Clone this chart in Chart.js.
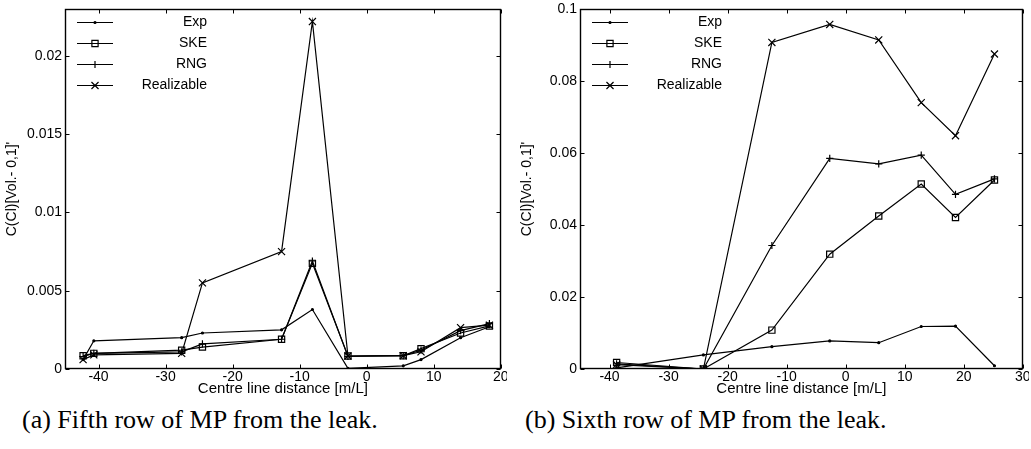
<!DOCTYPE html>
<html>
<head>
<meta charset="utf-8">
<script src="https://cdn.jsdelivr.net/npm/chart.js@4.4.1/dist/chart.umd.min.js"></script>
<style>
  html, body { margin: 0; padding: 0; background: #fff; width: 1031px; height: 449px; overflow: hidden; }
  #wrapA { position: absolute; left: 0; top: 0; width: 507px; height: 400px; }
  #wrapB { position: absolute; left: 507px; top: 0; width: 522px; height: 400px; }
  .cap { position: absolute; top: 407px; font-family: "Liberation Serif", serif; font-size: 26px;
         line-height: 26px; white-space: nowrap; color: #000; }
</style>
</head>
<body>
<div id="wrapA"><canvas id="chartA" width="507" height="400"></canvas></div>
<div id="wrapB"><canvas id="chartB" width="522" height="400"></canvas></div>
<div class="cap" style="left:22px">(a) Fifth row of MP from the leak.</div>
<div class="cap" style="left:525px">(b) Sixth row of MP from the leak.</div>
<script>
// ---- series labels ----
const seriesNames = ['Exp', 'SKE', 'RNG', 'Realizable'];

// ---- (a) fifth row ----
const distA = [-42.3, -40.7, -27.6, -24.5, -12.7, -8.1, -2.8, 5.45, 8.1, 14.0, 18.3];
const expA  = [0.0006, 0.0018, 0.0020, 0.0023, 0.0025, 0.0038, 0.00004, 0.0002, 0.0006, 0.0020, 0.0027];
const skeA  = [0.00085, 0.0010, 0.0012, 0.0014, 0.0019, 0.00675, 0.00083, 0.00085, 0.0013, 0.0023, 0.00275];
const rngA  = [0.0008, 0.0010, 0.0011, 0.0016, 0.0019, 0.0069, 0.0008, 0.00085, 0.0012, 0.00245, 0.0029];
const realA = [0.0006, 0.0009, 0.0010, 0.0055, 0.0075, 0.0222, 0.00083, 0.00085, 0.0011, 0.00264, 0.0028];
const xTicksA = [-40, -30, -20, -10, 0, 10, 20];
const xTickLabelsA = ['-40', '-30', '-20', '-10', '0', '10', '20'];
const yTicksA = [0, 0.005, 0.01, 0.015, 0.02];
const yTickLabelsA = ['0', '0.005', '0.01', '0.015', '0.02'];

// ---- (b) sixth row ----
const distB = [-38.8, -24.1, -12.5, -2.7, 5.6, 12.8, 18.6, 25.2];
const expB  = [0.0003, 0.0039, 0.0062, 0.0078, 0.0073, 0.0118, 0.0119, 0.0009];
const skeB  = [0.0018, 0.0000, 0.0108, 0.0319, 0.0425, 0.0514, 0.0421, 0.0525];
const rngB  = [0.0014, 0.0000, 0.0343, 0.0585, 0.0570, 0.0594, 0.0485, 0.0528];
const realB = [0.0012, 0.0000, 0.0907, 0.0957, 0.0914, 0.0740, 0.0648, 0.0875];
const xTicksB = [-40, -30, -20, -10, 0, 10, 20, 30];
const xTickLabelsB = ['-40', '-30', '-20', '-10', '0', '10', '20', '30'];
const yTicksB = [0, 0.02, 0.04, 0.06, 0.08, 0.1];
const yTickLabelsB = ['0', '0.02', '0.04', '0.06', '0.08', '0.1'];

const xTitle = 'Centre line distance [m/L]';
const yTitle = "C(Cl)[Vol.- 0,1]'";
const FONT = '"Liberation Sans", Arial, sans-serif';

// marker look per series: style, radius, fill
const markers = [
  { style: 'circle',   r: 1,   fill: '#000' },
  { style: 'rect',     r: 4.4, fill: 'rgba(0,0,0,0)' },
  { style: 'cross',    r: 3.6, fill: 'rgba(0,0,0,0)' },
  { style: 'crossRot', r: 5,   fill: 'rgba(0,0,0,0)' }
];

function drawMarker(ctx, m, x, y) {
  ctx.beginPath();
  if (m.style === 'circle') {
    ctx.arc(x, y, m.r, 0, Math.PI * 2);
    ctx.fillStyle = m.fill; ctx.fill(); ctx.stroke();
    return;
  }
  if (m.style === 'rect') {
    const h = m.r * Math.SQRT1_2;
    ctx.rect(x - h, y - h, 2 * h, 2 * h);
  } else if (m.style === 'cross') {
    ctx.moveTo(x - m.r, y); ctx.lineTo(x + m.r, y);
    ctx.moveTo(x, y - m.r); ctx.lineTo(x, y + m.r);
  } else {
    const d = m.r * Math.SQRT1_2;
    ctx.moveTo(x - d, y - d); ctx.lineTo(x + d, y + d);
    ctx.moveTo(x - d, y + d); ctx.lineTo(x + d, y - d);
  }
  ctx.stroke();
}

// closed frame, inward ticks on all four sides, and the in-plot legend
const frameLegend = {
  id: 'frameLegend',
  afterDraw(chart) {
    const { ctx, chartArea: a, scales: { x, y } } = chart;
    const L = 4;
    ctx.save();
    ctx.strokeStyle = '#000';
    ctx.lineWidth = 1.4;
    const l = Math.round(a.left) + 0.5, r = Math.round(a.right) - 0.5;
    const t = Math.round(a.top) + 0.5, b = Math.round(a.bottom) - 0.5;
    ctx.strokeRect(l, t, r - l, b - t);
    ctx.lineWidth = 1;
    ctx.beginPath();
    x.ticks.forEach(tk => {
      const px = Math.round(x.getPixelForValue(tk.value)) + 0.5;
      ctx.moveTo(px, b); ctx.lineTo(px, b - L);
      ctx.moveTo(px, t); ctx.lineTo(px, t + L);
    });
    y.ticks.forEach(tk => {
      const py = Math.round(y.getPixelForValue(tk.value)) + 0.5;
      ctx.moveTo(l, py); ctx.lineTo(l + L, py);
      ctx.moveTo(r, py); ctx.lineTo(r - L, py);
    });
    ctx.stroke();

    ctx.lineWidth = 1.2;
    chart.data.datasets.forEach((ds, i) => {
      const yy = Math.round(a.top + 13 + i * 21) + 0.5;
      const x0 = a.left + 12, x1 = a.left + 48;
      ctx.beginPath(); ctx.moveTo(x0, yy); ctx.lineTo(x1, yy); ctx.stroke();
      drawMarker(ctx, markers[i], (x0 + x1) / 2, yy);
      ctx.fillStyle = '#000';
      ctx.font = '14px ' + FONT;
      ctx.textAlign = 'right';
      ctx.textBaseline = 'middle';
      ctx.fillText(ds.label, a.left + 142, yy);
    });
    ctx.restore();
  }
};

function makeChart(id, dist, series, cfg) {
  const datasets = series.map((vals, i) => ({
    label: seriesNames[i],
    data: dist.map((d, k) => ({ x: d, y: vals[k] })),
    showLine: true,
    borderColor: '#000',
    borderWidth: 1.2,
    pointStyle: markers[i].style,
    pointRadius: markers[i].r,
    pointBorderColor: '#000',
    pointBackgroundColor: markers[i].fill,
    pointBorderWidth: 1.2,
    tension: 0
  }));
  return new Chart(document.getElementById(id), {
    type: 'scatter',
    data: { datasets },
    options: {
      responsive: false,
      animation: false,
      devicePixelRatio: 1,
      layout: { padding: { top: 9, right: cfg.padRight, left: 0, bottom: 0 } },
      plugins: { legend: { display: false }, tooltip: { enabled: false } },
      scales: {
        x: {
          type: 'linear', min: cfg.xMin, max: cfg.xMax,
          grid: { display: false, drawTicks: false },
          border: { display: false },
          afterBuildTicks: s => { s.ticks = cfg.xTicks.map(v => ({ value: v })); },
          afterFit: s => { s.height = 31; s.paddingLeft = 0; s.paddingRight = 0; },
          ticks: { padding: 0, color: '#000', maxRotation: 0, autoSkip: false,
                   font: { family: FONT, size: 14 },
                   callback: (v, i) => cfg.xTickLabels[i] },
          title: { display: true, text: xTitle, color: '#000',
                   font: { family: FONT, size: 15 }, padding: { top: 0, bottom: 2 } }
        },
        y: {
          type: 'linear', min: 0, max: cfg.yMax,
          grid: { display: false, drawTicks: false },
          border: { display: false },
          afterBuildTicks: s => { s.ticks = cfg.yTicks.map(v => ({ value: v })); },
          afterFit: s => { s.width = cfg.axisWidth; s.paddingTop = 0; s.paddingBottom = 0; },
          ticks: { padding: 3, color: '#000', autoSkip: false,
                   font: { family: FONT, size: 14 },
                   callback: (v, i) => cfg.yTickLabels[i] },
          title: { display: true, text: yTitle, color: '#000',
                   font: { family: FONT, size: 14 }, padding: { top: cfg.yTitlePad, bottom: 0 } }
        }
      }
    },
    plugins: [frameLegend]
  });
}

makeChart('chartA', distA, [expA, skeA, rngA, realA], {
  xMin: -45, xMax: 20, yMax: 0.023, padRight: 3, axisWidth: 65, yTitlePad: 3.6,
  xTicks: xTicksA, xTickLabels: xTickLabelsA, yTicks: yTicksA, yTickLabels: yTickLabelsA
});
makeChart('chartB', distB, [expB, skeB, rngB, realB], {
  xMin: -45, xMax: 30, yMax: 0.1, padRight: 6, axisWidth: 73, yTitlePad: 12,
  xTicks: xTicksB, xTickLabels: xTickLabelsB, yTicks: yTicksB, yTickLabels: yTickLabelsB
});
</script>
</body>
</html>
